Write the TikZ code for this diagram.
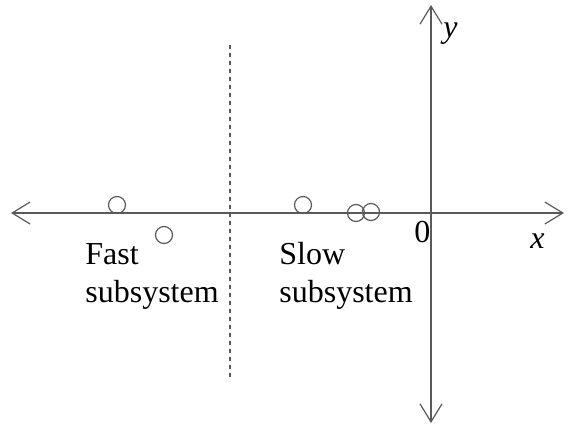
\documentclass[tikz,border=0pt]{standalone}
\usepackage{fontspec}
\setmainfont{Liberation Serif}
\usetikzlibrary{arrows.meta}
\definecolor{axisgray}{RGB}{90,90,90}
\tikzset{
  barb/.tip={Straight Barb[length=9pt,width=11pt]},
  axisline/.style={draw=axisgray, line width=0.6pt, barb-barb},
  pole/.style={circle, draw=axisgray, line width=0.6pt, minimum size=8.5pt, inner sep=0pt},
  txt/.style={inner sep=0pt, font=\fontsize{16}{19}\selectfont},
}
\begin{document}
\begin{tikzpicture}[x=0.5pt,y=-0.5pt]
\useasboundingbox (0,0) rectangle (569,430);
% axes
\coordinate (xl) at (11,213);
\coordinate (xr) at (564,213);
\coordinate (yt) at (431,5);
\coordinate (yb) at (431,423);
\draw[axisline] (xl) -- (xr);
\draw[axisline] (yb) -- (yt);
% separation between fast and slow
\coordinate (st) at (230,45);
\coordinate (sb) at (230,378);
\draw[axisgray, line width=0.7pt, dash pattern=on 2pt off 2pt] (st) -- (sb);
% poles
\node[pole] (p1) at (117,205) {};
\node[pole] (p2) at (164,235) {};
\node[pole] (p3) at (303,205) {};
\node[pole] (p4) at (356,213) {};
\node[pole] (p5) at (371,212) {};
% labels
\node[txt, anchor=base west] (zero) at (414,242) {0};
\node[txt, anchor=base west] (xlab) at (530,248) {\textit{x}};
\node[txt, anchor=base west] (ylab) at (443,37) {\textit{y}};
\node[txt, anchor=north west, align=left] (fast) at (85,243) {Fast\\subsystem};
\node[txt, anchor=north west, align=left] (slow) at (279,242) {Slow\\subsystem};
\end{tikzpicture}
\end{document}
